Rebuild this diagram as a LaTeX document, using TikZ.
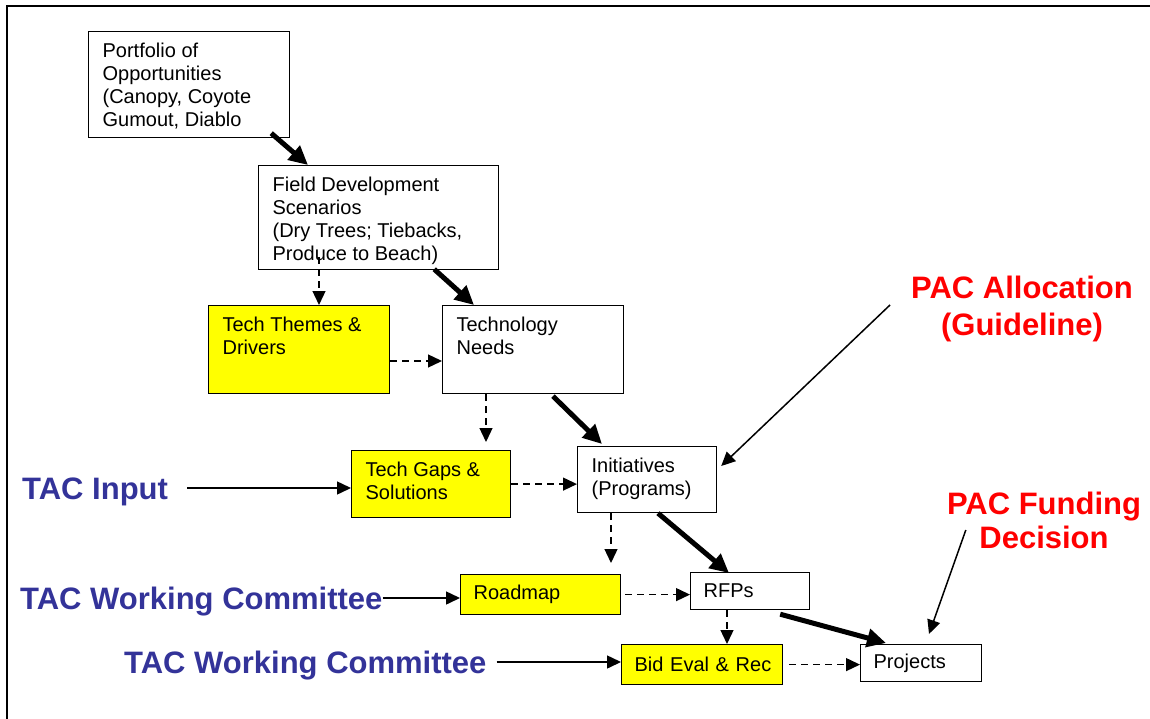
\documentclass[tikz,border=0pt]{standalone}
\usepackage{fontspec}
\setmainfont{Liberation Sans}
\usetikzlibrary{arrows.meta,calc,positioning}
\definecolor{tacblue}{RGB}{51,51,153}
\definecolor{pacred}{RGB}{255,0,0}
\definecolor{hilite}{RGB}{255,255,0}
\newcommand{\boxtext}[3]{\parbox[c][#2][t]{#1}{\raggedright\strut#3}}

\begin{document}
\begin{tikzpicture}[x=1pt,y=-1pt,
    blk/.style={draw,line width=1.2pt,anchor=north west,inner xsep=14pt,inner ysep=10pt,font=\fontsize{20}{23}\selectfont},
    slim/.style={draw,line width=1.2pt,anchor=north west,inner xsep=13pt,inner ysep=0pt,align=left,font=\fontsize{20}{23}\selectfont},
    hl/.style={fill=hilite},
    tac/.style={inner sep=0pt,text height=22pt,text depth=0pt,text=tacblue,font=\fontsize{31}{35}\selectfont\bfseries},
    pac/.style={inner sep=0pt,align=center,text=pacred},
    heavy/.style={line width=5pt,-{Triangle[length=19pt,width=18pt]}},
    dsh/.style={line width=1.3pt,dash pattern=on 7pt off 5pt,-{Triangle[length=14pt,width=13pt]}},
    thinarr/.style={line width=1.5pt,-{Triangle[length=14pt,width=13pt]}}]
	\useasboundingbox (0,0) rectangle (1150,719);
	\draw[line width=2pt] (7,719) -- (7,6) -- (1150,6);

	% boxes
	\node[blk] (portf) at (88,31) {\boxtext{173pt}{86pt}{Portfolio of\\Opportunities\\(Canopy, Coyote\\Gumout, Diablo}};
	\node[blk] (fds) at (258,165) {\boxtext{212pt}{84pt}{Field Development\\Scenarios\\(Dry Trees; Tiebacks,\\Produce to Beach)}};
	\node[blk,hl] (themes) at (208,305) {\boxtext{153pt}{68pt}{Tech Themes \&\\Drivers}};
	\node[blk] (needs) at (442,305) {\boxtext{153pt}{68pt}{Technology\\Needs}};
	\node[blk,hl] (gaps) at (351,450) {\boxtext{131pt}{47pt}{Tech Gaps \&\\Solutions}};
	\node[blk] (init) at (577,446) {\boxtext{111pt}{46pt}{Initiatives\\(Programs)}};
	\node[slim,hl,text width=134pt,minimum height=40pt] (roadmap) at (460,574) {Roadmap};
	\node[slim,text width=93pt,minimum height=37pt] (rfps) at (690,572) {RFPs};
	\node[slim,hl,text width=135pt,minimum height=40pt] (bid) at (621,644) {\mbox{Bid Eval \& Rec}};
	\node[slim,text width=95pt,minimum height=37pt] (proj) at (860,644) {Projects};

	% labels
	\node[tac,anchor=west] (tacin) at (22,488) {TAC Input};
	\node[tac,anchor=west] (tacwc) at (20,598) {TAC Working Committee};
	\node[tac,anchor=west] (tacbid) at (124,662) {TAC Working Committee};
	\node[pac,font=\fontsize{31}{37}\selectfont\bfseries] (pacalloc) at (1022,309) {PAC Allocation\\(Guideline)};
	\node[pac,font=\fontsize{31}{34}\selectfont\bfseries] (pacfund) at (1044,520) {PAC Funding\\Decision};

	% main flow
	\draw[heavy] ($(portf.south east)+(-19,-5)$) -- ($(fds.north west)+(50,0)$);
	\draw[heavy] ($(fds.south east)+(-65,-1)$) -- ($(needs.north west)+(32,0)$);
	\draw[heavy] ($(needs.south west)+(111,2)$) -- ($(init.north west)+(25,-2)$);
	\draw[heavy] ($(init.south west)+(81,0)$) -- ($(rfps.north west)+(39,1)$);
	\draw[heavy] ($(rfps.south east)+(-30,4)$) -- ($(proj.north west)+(26,-1)$);

	% dashed links
	\draw[dsh] ($(fds.south west)+(61,-13)$) -- ($(themes.north west)+(111,0)$);
	\draw[dsh] ($(themes.north east)+(0,56)$) -- ($(needs.north west)+(0,56)$);
	\draw[dsh] ($(needs.south west)+(44,0)$) -- ($(gaps.north west)+(135,-8)$);
	\draw[dsh] (gaps.east) -- (gaps.east -| init.west);
	\draw[dsh] ($(init.south west)+(34,0)$) -- ($(roadmap.north west)+(151,-11)$);
	\draw[dsh,shorten <=4pt] (roadmap.east) -- (roadmap.east -| rfps.west);
	\draw[dsh] ($(rfps.south west)+(37,0)$) -- ($(bid.north west)+(106,0)$);
	\draw[dsh,shorten <=6pt] (bid.east) -- (bid.east -| proj.west);

	% inputs
	\draw[thinarr,shorten <=19pt] (tacin.east) -- (tacin.east -| gaps.west);
	\draw[thinarr] (tacwc.east) -- (tacwc.east -| roadmap.west);
	\draw[thinarr,shorten <=10pt] (tacbid.east) -- (tacbid.east -| bid.west);
	\draw[thinarr] ($(pacalloc.west)+(-21,-4)$) -- ($(init.north east)+(4,20)$);
	\draw[thinarr] ($(pacfund.west)+(19,10)$) -- ($(proj.north west)+(69,-10)$);
\end{tikzpicture}
\end{document}
